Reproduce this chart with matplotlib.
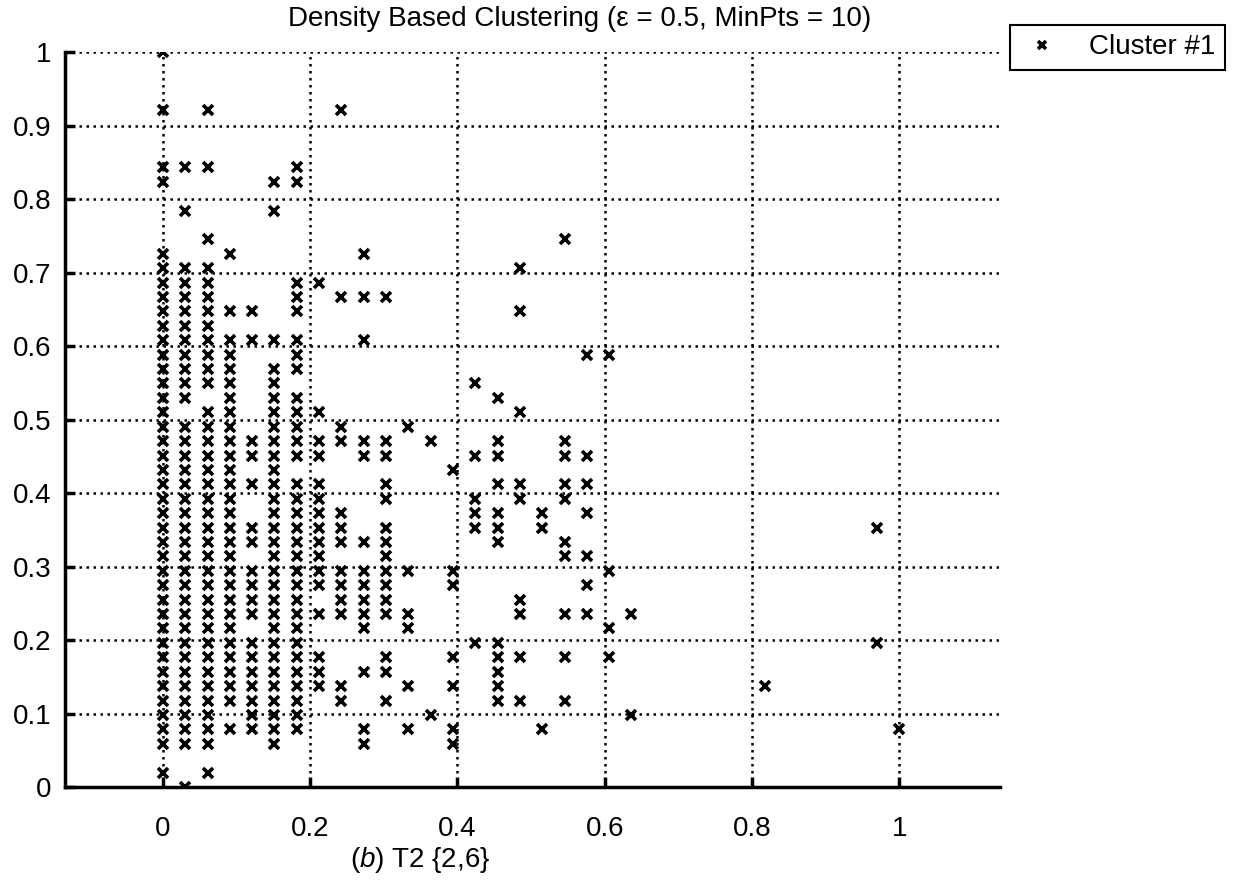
import numpy as np
import matplotlib
matplotlib.use('Agg')
import matplotlib.pyplot as plt

plt.rcParams['font.family'] = ['Liberation Sans', 'DejaVu Sans']
plt.rcParams['mathtext.fontset'] = 'custom'
plt.rcParams['mathtext.rm'] = 'Liberation Sans'
plt.rcParams['mathtext.it'] = 'Liberation Sans:italic'

# points sit on a grid: x in steps of 1/33, y in steps of 1/51
x_step = 33
y_step = 51

# x grid index of each column of points
col_index = [0, 1, 2, 3, 4, 5, 6, 7, 8, 9, 10, 11, 12, 13, 14, 15, 16, 17, 18, 19, 20, 21, 27, 32, 33]

col_levels = [
    [51, 47, 43, 42, 37, 36, 35, 34, 33, 32, 31, 30, 29, 28, 27, 26, 25, 24, 23, 22, 21, 20, 19, 18,
     17, 16, 15, 14, 13, 12, 11, 10, 9, 8, 7, 6, 5, 4, 3, 1],
    [43, 40, 36, 35, 34, 33, 32, 31, 30, 29, 28, 27, 25, 24, 23, 22, 21, 20, 19, 18,
     17, 16, 15, 14, 13, 12, 11, 10, 9, 8, 7, 6, 5, 4, 3, 0],
    [47, 43, 38, 36, 35, 34, 33, 32, 31, 30, 29, 28, 26, 25, 24, 23, 22, 21, 20, 19, 18,
     17, 16, 15, 14, 13, 12, 11, 10, 9, 8, 7, 6, 5, 4, 3, 1],
    [37, 33, 31, 30, 29, 28, 27, 26, 25, 24, 23, 22, 21, 20, 19, 18,
     17, 16, 15, 14, 13, 12, 11, 10, 9, 8, 7, 6, 4],
    [33, 31, 24, 23, 21, 18, 17, 15, 14, 13, 12, 10, 9, 8, 7, 6, 5, 4],
    [42, 40, 31, 29, 28, 27, 26, 25, 24, 23, 22, 21, 20, 19, 18,
     17, 16, 15, 14, 13, 12, 11, 10, 9, 8, 7, 6, 5, 4, 3],
    [43, 42, 35, 34, 33, 31, 30, 29, 27, 26, 25, 24, 23, 21, 20, 19, 18,
     17, 16, 15, 14, 13, 12, 11, 10, 9, 8, 7, 6, 5, 4],
    [35, 26, 24, 23, 21, 20, 19, 18, 17, 16, 15, 14, 12, 9, 8, 7],
    [47, 34, 25, 24, 19, 18, 17, 15, 14, 13, 12, 7, 6],
    [37, 34, 31, 24, 23, 17, 15, 14, 13, 12, 11, 8, 4, 3],
    [34, 24, 23, 21, 20, 18, 17, 16, 15, 14, 13, 12, 9, 8, 6],
    [25, 15, 12, 11, 7, 4],
    [24, 5],
    [22, 15, 14, 9, 7, 4, 3],
    [28, 23, 20, 19, 18, 10],
    [27, 24, 23, 21, 19, 18, 17, 10, 9, 8, 7, 6],
    [36, 33, 26, 21, 20, 13, 12, 9, 6],
    [19, 18, 4],
    [38, 24, 23, 21, 20, 17, 16, 12, 9, 6],
    [30, 23, 21, 19, 16, 14, 12],
    [30, 15, 11, 9],
    [12, 5],
    [7],
    [18, 10],
    [4],
]

x_ticks = [0, 0.2, 0.4, 0.6, 0.8, 1]
x_labels = ['0', '0.2', '0.4', '0.6', '0.8', '1']
y_ticks = [0, 0.1, 0.2, 0.3, 0.4, 0.5, 0.6, 0.7, 0.8, 0.9, 1]
y_labels = ['0', '0.1', '0.2', '0.3', '0.4', '0.5', '0.6', '0.7', '0.8', '0.9', '1']

xs = []
ys = []
for i, levels in zip(col_index, col_levels):
    for j in levels:
        xs.append(i / x_step)
        ys.append(j / y_step)
xs = np.array(xs)
ys = np.array(ys)

fig = plt.figure(figsize=(12.33, 8.82), dpi=100)
ax = fig.add_axes([0.0527, 0.1077, 0.7584, 0.8333])

ax.plot(xs, ys, linestyle='none', marker='x', color='black', markersize=7.5,
        markeredgewidth=2.6, label='Cluster #1', zorder=3)

ax.set_xlim(-0.133, 1.137)
ax.set_ylim(0, 1)
ax.set_xticks(x_ticks)
ax.set_xticklabels(x_labels)
ax.set_yticks(y_ticks)
ax.set_yticklabels(y_labels)

ax.grid(True, color='black', linestyle=(0, (1, 1.8)), linewidth=1.8)
ax.set_axisbelow(True)
for side in ['top', 'right']:
    ax.spines[side].set_visible(False)
for side in ['left', 'bottom']:
    ax.spines[side].set_linewidth(2.5)
ax.tick_params(direction='in', length=7, width=2.5, labelsize=20)
ax.tick_params(axis='x', pad=21)
ax.tick_params(axis='y', pad=10)

fig.text(0.470, 0.979, 'Density Based Clustering (\u03b5 = 0.5, MinPts = 10)',
         ha='center', va='center', fontsize=20)
fig.text(0.341, 0.025, r'($\it{b}$) T2 {2,6}', ha='center', va='center', fontsize=20)

leg = fig.legend(loc='upper right', bbox_to_anchor=(0.9935, 0.972), fontsize=20,
                 fancybox=False, edgecolor='black', framealpha=1, borderpad=0.35,
                 handlelength=1.6, handletextpad=0.9, markerscale=0.7, borderaxespad=0)
leg.get_frame().set_linewidth(1.5)

fig.savefig('out.png', dpi=100)
